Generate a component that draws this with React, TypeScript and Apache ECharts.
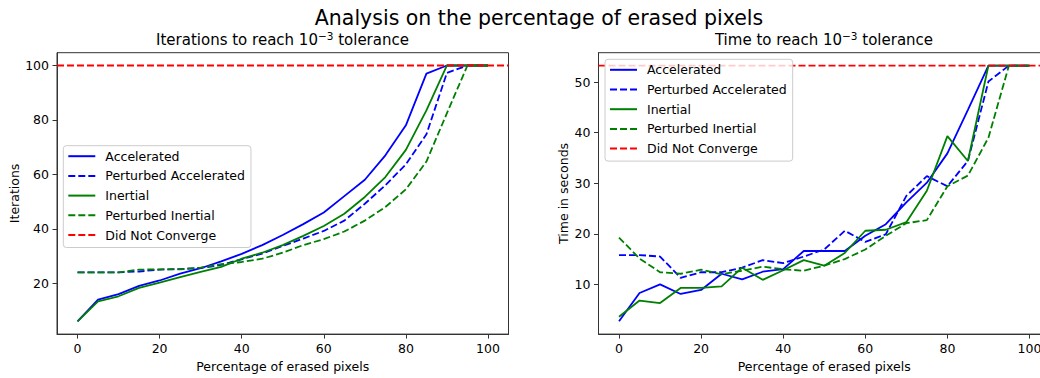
import React, { useEffect, useRef } from "react";
import * as echarts from "echarts";

const FONT = "DejaVu Sans";

const pct = [0, 5, 10, 15, 20, 25, 30, 35, 40, 45, 50, 55, 60, 65, 70, 75, 80, 85, 90, 95, 100];

// Iterations (left panel)
const itAccelerated = [6, 14, 16, 19, 21, 23.5, 25.5, 28, 30.8, 34, 37.7, 41.7, 46, 52, 58, 67, 78, 97, 100, 100, 100];
const itPerturbedAccelerated = [24, 24, 24, 24.3, 25, 25.2, 25.6, 26.7, 28.8, 30.9, 33.7, 36.4, 39.2, 43, 49.2, 56, 63.7, 74.7, 97.3, 100, 100];
const itInertial = [6, 13.3, 15.2, 18.3, 20.2, 22.2, 24.2, 26, 29, 31.2, 34, 37.4, 41, 45.5, 51.7, 59, 69, 83.5, 100, 100, 100];
const itPerturbedInertial = [24, 24, 24, 25, 25.1, 25.1, 25.7, 27, 27.8, 29, 31.2, 34, 36.2, 39, 43, 48, 54.5, 64.7, 82.5, 100, 100];
const itDidNotConverge = 100;

// Time in seconds (right panel)
const tAccelerated = [2.7, 8.3, 10.0, 8.1, 8.9, 12.1, 11.0, 12.5, 13.0, 16.6, 16.6, 16.6, 19.6, 21.9, 26.2, 30.1, 35.9, 44.5, 53.26, 53.26, 53.26];
const tPerturbedAccelerated = [15.8, 15.8, 15.5, 11.3, 12.4, 12.4, 13.3, 14.8, 14.2, 15.5, 16.9, 20.6, 18.4, 19.9, 27.5, 31.4, 29.4, 34.4, 50.1, 53.26, 53.26];
const tInertial = [3.6, 6.8, 6.3, 9.3, 9.3, 9.6, 13.3, 10.9, 12.8, 14.8, 13.7, 16.2, 20.6, 20.8, 22.3, 28.5, 39.3, 34.4, 53.26, 53.26, 53.26];
const tPerturbedInertial = [19.25, 15.1, 12.4, 12.1, 12.9, 12.0, 12.7, 13.5, 13.0, 12.7, 13.7, 15.0, 16.9, 19.6, 22.1, 22.7, 29.4, 31.5, 39.0, 53.26, 53.26];
const tDidNotConverge = 53.26;

const xTicks = [0, 20, 40, 60, 80, 100];
const itTicks = [20, 40, 60, 80, 100];
const tTicks = [10, 20, 30, 40, 50];
const xRange = [-5, 105];
const itRange = [1.3, 104.7];
const tRange = [0.17, 55.8];

const names = ["Accelerated", "Perturbed Accelerated", "Inertial", "Perturbed Inertial", "Did Not Converge"];
const colors = ["#0000ff", "#0000ff", "#008000", "#008000", "#ff0000"];
const dashed = [false, true, false, true, true];

const DASH = [7, 3];

function mkSeries(idx: number, name: string, values: number[], k: number) {
  return {
    type: "line",
    name,
    xAxisIndex: idx,
    yAxisIndex: idx,
    data: pct.map((x, i) => [x, values[i]]),
    symbol: "none",
    showSymbol: false,
    silent: true,
    lineStyle: { color: colors[k], width: 1.8, type: dashed[k] ? DASH : "solid" },
    itemStyle: { color: colors[k] },
  };
}

function mkHLine(idx: number, value: number) {
  return {
    type: "line",
    name: names[4],
    xAxisIndex: idx,
    yAxisIndex: idx,
    data: [[xRange[0], value], [xRange[1], value]],
    symbol: "none",
    showSymbol: false,
    silent: true,
    lineStyle: { color: colors[4], width: 1.8, type: DASH },
    itemStyle: { color: colors[4] },
  };
}

const labelStyle = { color: "#000", fontSize: 12.5, fontFamily: FONT };

function xAxis(idx: number) {
  return {
    type: "value",
    gridIndex: idx,
    min: xRange[0],
    max: xRange[1],
    axisLine: { show: true, onZero: false, lineStyle: { color: "#333", width: 1 } },
    axisTick: { show: true, length: 4.5, lineStyle: { color: "#333", width: 1 }, customValues: xTicks },
    axisLabel: { ...labelStyle, margin: 8, customValues: xTicks },
    splitLine: { show: false },
    name: "Percentage of erased pixels",
    nameLocation: "middle",
    nameGap: 25,
    nameTextStyle: labelStyle,
  };
}

function yAxis(idx: number, range: number[], ticks: number[], name: string, gap: number) {
  return {
    type: "value",
    gridIndex: idx,
    min: range[0],
    max: range[1],
    axisLine: { show: true, onZero: false, lineStyle: { color: "#333", width: 1 } },
    axisTick: { show: true, length: 4.5, lineStyle: { color: "#333", width: 1 }, customValues: ticks },
    axisLabel: { ...labelStyle, margin: 8, customValues: ticks },
    splitLine: { show: false },
    name,
    nameLocation: "middle",
    nameGap: gap,
    nameTextStyle: labelStyle,
  };
}

function legend(left: number, top: number) {
  return {
    data: names,
    orient: "vertical",
    left,
    top,
    itemWidth: 27,
    itemHeight: 12,
    itemGap: 6.7,
    padding: [4, 6, 6, 4],
    backgroundColor: "rgba(255,255,255,0.8)",
    borderColor: "#cccccc",
    borderWidth: 1,
    borderRadius: 3,
    selectedMode: false,
    itemStyle: { opacity: 0 },
    textStyle: { ...labelStyle, padding: [0, 0, 0, 5] },
    z: 10,
  };
}

function subtitle(x: number, label: string) {
  return {
    type: "text",
    x,
    y: 40,
    style: {
      text: label + " to reach 10{sup|\u22123} tolerance",
      fontSize: 15,
      fontFamily: FONT,
      fill: "#000",
      align: "center",
      verticalAlign: "middle",
      lineHeight: 20,
      rich: {
        sup: { fontSize: 10.5, fontFamily: FONT, fill: "#000", lineHeight: 10, verticalAlign: "top" },
      },
    },
  };
}

export default function App() {
  const ref = useRef<HTMLDivElement>(null);
  useEffect(() => {
    if (!ref.current) return;
    const chart = echarts.init(ref.current, undefined, { renderer: "svg" });
    const itSets = [itAccelerated, itPerturbedAccelerated, itInertial, itPerturbedInertial];
    const tSets = [tAccelerated, tPerturbedAccelerated, tInertial, tPerturbedInertial];
    chart.setOption({
      animation: false,
      backgroundColor: "#fff",
      textStyle: { fontFamily: FONT },
      grid: [
        { left: 57, top: 52.7, width: 451.5, height: 282.3, show: true, borderColor: "#333", borderWidth: 1, backgroundColor: "transparent" },
        { left: 598.5, top: 52.7, width: 451.5, height: 282.3, show: true, borderColor: "#333", borderWidth: 1, backgroundColor: "transparent" },
      ],
      xAxis: [xAxis(0), xAxis(1)],
      yAxis: [
        yAxis(0, itRange, itTicks, "Iterations", 36),
        yAxis(1, tRange, tTicks, "Time in seconds", 28.5),
      ],
      legend: [legend(63.3, 145.7), legend(605, 59.3)],
      series: [
        ...itSets.map((v, k) => mkSeries(0, names[k], v, k)),
        mkHLine(0, itDidNotConverge),
        ...tSets.map((v, k) => mkSeries(1, names[k], v, k)),
        mkHLine(1, tDidNotConverge),
      ],
      graphic: [
        {
          type: "text",
          x: 539,
          y: 18,
          style: {
            text: "Analysis on the percentage of erased pixels",
            fontSize: 20.5,
            fontFamily: FONT,
            fill: "#000",
            align: "center",
            verticalAlign: "middle",
          },
        },
        subtitle(282.5, "Iterations"),
        subtitle(824, "Time"),
      ],
    });
    return () => chart.dispose();
  }, []);
  return (
    <div
      ref={ref}
      style={{ position: "fixed", left: 0, top: 0, width: 1078, height: 378 }}
    />
  );
}
